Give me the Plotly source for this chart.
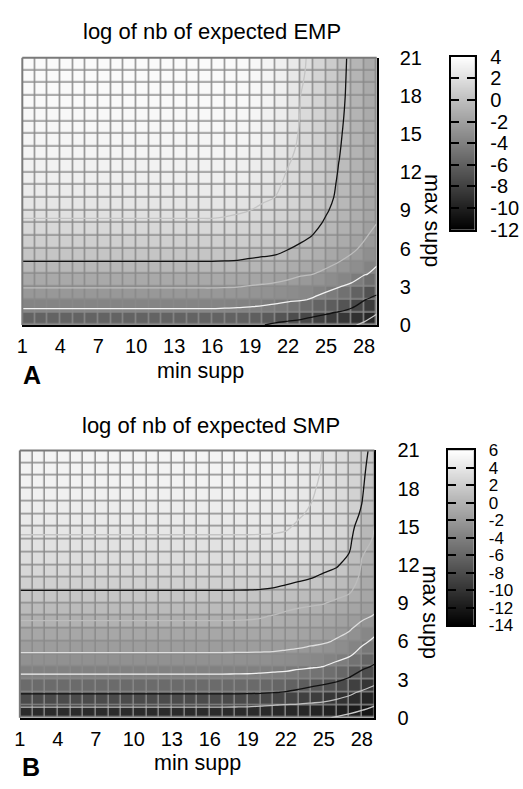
import numpy as np
import plotly.graph_objects as go

# ---------------- data ----------------
min_supp = [1, 2, 3, 4, 5, 6, 7, 8, 9, 10, 11, 12, 13, 14, 15, 16, 17, 18, 19, 20,
            21, 22, 23, 24, 25, 26, 27, 28, 29]
max_supp = [0, 1, 2, 3, 4, 5, 6, 7, 8, 9, 10, 11, 12, 13, 14, 15, 16, 17, 18, 19, 20, 21]

x_ticks = [1, 4, 7, 10, 13, 16, 19, 22, 25, 28]
y_ticks = [0, 3, 6, 9, 12, 15, 18, 21]
cb_ticks_A = [-12, -10, -8, -6, -4, -2, 0, 2, 4]
cb_ticks_B = [-14, -12, -10, -8, -6, -4, -2, 0, 2, 4, 6]

# log of expected EMP, one list per min supp (values for max supp 0..21)
emp_by_min_supp = [
    [-7.2, -4.4, -3.0, -1.9, -0.9, 0.0, 0.7, 1.3, 1.85, 2.25, 2.6, 2.9, 3.1, 3.25, 3.35, 3.45, 3.52, 3.58, 3.62, 3.66, 3.68, 3.7],
    [-7.2, -4.4, -3.0, -1.9, -0.9, 0.0, 0.7, 1.3, 1.85, 2.25, 2.6, 2.9, 3.1, 3.25, 3.35, 3.45, 3.52, 3.58, 3.62, 3.66, 3.68, 3.7],
    [-7.2, -4.4, -3.0, -1.9, -0.9, 0.0, 0.7, 1.3, 1.85, 2.25, 2.6, 2.9, 3.1, 3.25, 3.35, 3.45, 3.52, 3.58, 3.62, 3.66, 3.68, 3.7],
    [-7.2, -4.4, -3.0, -1.9, -0.9, 0.0, 0.7, 1.3, 1.85, 2.25, 2.6, 2.9, 3.1, 3.25, 3.35, 3.45, 3.52, 3.58, 3.62, 3.66, 3.68, 3.7],
    [-7.2, -4.4, -3.0, -1.9, -0.9, 0.0, 0.7, 1.3, 1.85, 2.25, 2.6, 2.9, 3.1, 3.25, 3.35, 3.45, 3.52, 3.58, 3.62, 3.66, 3.68, 3.7],
    [-7.2, -4.4, -3.0, -1.9, -0.9, 0.0, 0.7, 1.3, 1.85, 2.25, 2.6, 2.9, 3.1, 3.25, 3.35, 3.45, 3.52, 3.58, 3.62, 3.66, 3.68, 3.7],
    [-7.2, -4.4, -3.0, -1.9, -0.9, 0.0, 0.7, 1.3, 1.85, 2.25, 2.6, 2.9, 3.1, 3.25, 3.35, 3.45, 3.52, 3.58, 3.62, 3.66, 3.68, 3.7],
    [-7.2, -4.4, -3.0, -1.9, -0.9, 0.0, 0.7, 1.3, 1.85, 2.25, 2.6, 2.9, 3.1, 3.25, 3.35, 3.45, 3.52, 3.58, 3.62, 3.66, 3.68, 3.7],
    [-7.2, -4.4, -3.0, -1.9, -0.9, 0.0, 0.7, 1.3, 1.85, 2.25, 2.6, 2.9, 3.1, 3.25, 3.35, 3.45, 3.52, 3.58, 3.62, 3.66, 3.68, 3.7],
    [-7.2, -4.4, -3.0, -1.9, -0.9, 0.0, 0.7, 1.3, 1.85, 2.25, 2.6, 2.9, 3.1, 3.25, 3.35, 3.45, 3.52, 3.58, 3.62, 3.66, 3.68, 3.7],
    [-7.2, -4.4, -3.0, -1.9, -0.9, 0.0, 0.7, 1.3, 1.85, 2.25, 2.6, 2.9, 3.1, 3.25, 3.35, 3.45, 3.52, 3.58, 3.62, 3.66, 3.68, 3.7],
    [-7.2, -4.4, -3.0, -1.9, -0.9, 0.0, 0.7, 1.3, 1.85, 2.25, 2.6, 2.9, 3.1, 3.25, 3.35, 3.45, 3.52, 3.58, 3.62, 3.66, 3.68, 3.7],
    [-7.2, -4.4, -3.0, -1.9, -0.9, 0.0, 0.7, 1.3, 1.85, 2.25, 2.6, 2.9, 3.1, 3.25, 3.35, 3.45, 3.52, 3.58, 3.62, 3.66, 3.68, 3.7],
    [-7.2, -4.4, -3.0, -1.9, -0.9, 0.0, 0.7, 1.3, 1.85, 2.25, 2.6, 2.9, 3.1, 3.25, 3.35, 3.45, 3.52, 3.58, 3.62, 3.66, 3.68, 3.7],
    [-7.2, -4.4, -3.0, -1.9, -0.9, 0.0, 0.7, 1.3, 1.85, 2.25, 2.6, 2.9, 3.1, 3.25, 3.35, 3.45, 3.52, 3.58, 3.62, 3.66, 3.68, 3.7],
    [-7.2, -4.4, -3.0, -1.9, -0.9, 0.0, 0.7, 1.3, 1.85, 2.25, 2.6, 2.9, 3.1, 3.25, 3.35, 3.45, 3.52, 3.58, 3.62, 3.66, 3.68, 3.7],
    [-7.22, -4.45, -3.05, -1.93, -0.92, -0.02, 0.67, 1.26, 1.8, 2.2, 2.56, 2.86, 3.07, 3.22, 3.33, 3.43, 3.5, 3.57, 3.61, 3.65, 3.67, 3.69],
    [-7.25, -4.5, -3.1, -1.97, -0.95, -0.05, 0.62, 1.2, 1.72, 2.12, 2.5, 2.8, 3.02, 3.18, 3.29, 3.39, 3.47, 3.54, 3.59, 3.63, 3.65, 3.67],
    [-7.3, -4.6, -3.2, -2.1, -1.05, -0.15, 0.5, 1.05, 1.55, 2.0, 2.38, 2.68, 2.9, 3.08, 3.22, 3.33, 3.41, 3.48, 3.53, 3.56, 3.58, 3.6],
    [-7.4, -4.75, -3.3, -2.2, -1.2, -0.2, 0.35, 0.9, 1.4, 1.8, 2.15, 2.45, 2.7, 2.9, 3.05, 3.17, 3.26, 3.33, 3.38, 3.42, 3.44, 3.45],
    [-8.0, -5.0, -3.5, -2.35, -1.3, -0.3, 0.3, 0.8, 1.2, 1.55, 1.98, 2.2, 2.4, 2.58, 2.72, 2.86, 2.97, 3.05, 3.11, 3.15, 3.18, 3.2],
    [-8.3, -5.6, -3.65, -2.6, -1.5, -0.6, 0.05, 0.55, 0.95, 1.28, 1.55, 1.75, 1.92, 2.12, 2.35, 2.55, 2.7, 2.82, 2.9, 2.95, 2.98, 3.0],
    [-8.55, -6.1, -3.8, -2.75, -1.85, -0.95, -0.25, 0.3, 0.7, 1.02, 1.25, 1.43, 1.57, 1.68, 1.77, 1.84, 1.9, 1.95, 1.99, 2.1, 2.22, 2.3],
    [-8.75, -6.8, -4.2, -3.05, -2.0, -1.15, -0.5, -0.05, 0.3, 0.6, 0.82, 1.0, 1.14, 1.25, 1.34, 1.41, 1.47, 1.51, 1.54, 1.57, 1.59, 1.6],
    [-8.95, -7.2, -4.7, -3.5, -2.35, -1.55, -0.95, -0.5, -0.15, 0.1, 0.3, 0.45, 0.58, 0.68, 0.77, 0.85, 0.91, 0.97, 1.01, 1.05, 1.08, 1.1],
    [-9.1, -7.6, -5.1, -3.95, -2.85, -1.95, -1.3, -0.85, -0.55, -0.35, -0.2, -0.14, -0.06, 0.02, 0.08, 0.14, 0.21, 0.28, 0.35, 0.4, 0.45, 0.5],
    [-9.3, -8.1, -6.2, -4.35, -3.2, -2.4, -1.7, -1.2, -0.9, -0.7, -0.6, -0.52, -0.47, -0.43, -0.4, -0.38, -0.36, -0.34, -0.33, -0.32, -0.31, -0.3],
    [-9.8, -8.6, -7.4, -5.5, -3.85, -3.0, -2.3, -1.8, -1.5, -1.3, -1.2, -1.15, -1.1, -1.08, -1.06, -1.05, -1.04, -1.03, -1.02, -1.01, -1.0, -1.0],
    [-10.6, -9.3, -8.0, -6.6, -4.4, -3.75, -3.1, -2.5, -1.98, -1.85, -1.75, -1.7, -1.65, -1.63, -1.61, -1.59, -1.57, -1.55, -1.54, -1.53, -1.52, -1.5],
]

# log of expected SMP, one list per min supp (values for max supp 0..21)
smp_by_min_supp = [
    [-11.5, -9.7, -6.6, -4.6, -3.2, -2.1, -1.25, -0.5, 0.3, 1.1, 2.0, 2.6, 3.1, 3.5, 3.88, 4.2, 4.5, 4.75, 4.93, 5.05, 5.13, 5.18],
    [-11.5, -9.7, -6.6, -4.6, -3.2, -2.1, -1.25, -0.5, 0.3, 1.1, 2.0, 2.6, 3.1, 3.5, 3.88, 4.2, 4.5, 4.75, 4.93, 5.05, 5.13, 5.18],
    [-11.5, -9.7, -6.6, -4.6, -3.2, -2.1, -1.25, -0.5, 0.3, 1.1, 2.0, 2.6, 3.1, 3.5, 3.88, 4.2, 4.5, 4.75, 4.93, 5.05, 5.13, 5.18],
    [-11.5, -9.7, -6.6, -4.6, -3.2, -2.1, -1.25, -0.5, 0.3, 1.1, 2.0, 2.6, 3.1, 3.5, 3.88, 4.2, 4.5, 4.75, 4.93, 5.05, 5.13, 5.18],
    [-11.5, -9.7, -6.6, -4.6, -3.2, -2.1, -1.25, -0.5, 0.3, 1.1, 2.0, 2.6, 3.1, 3.5, 3.88, 4.2, 4.5, 4.75, 4.93, 5.05, 5.13, 5.18],
    [-11.5, -9.7, -6.6, -4.6, -3.2, -2.1, -1.25, -0.5, 0.3, 1.1, 2.0, 2.6, 3.1, 3.5, 3.88, 4.2, 4.5, 4.75, 4.93, 5.05, 5.13, 5.18],
    [-11.5, -9.7, -6.6, -4.6, -3.2, -2.1, -1.25, -0.5, 0.3, 1.1, 2.0, 2.6, 3.1, 3.5, 3.88, 4.2, 4.5, 4.75, 4.93, 5.05, 5.13, 5.18],
    [-11.5, -9.7, -6.6, -4.6, -3.2, -2.1, -1.25, -0.5, 0.3, 1.1, 2.0, 2.6, 3.1, 3.5, 3.88, 4.2, 4.5, 4.75, 4.93, 5.05, 5.13, 5.18],
    [-11.5, -9.7, -6.6, -4.6, -3.2, -2.1, -1.25, -0.5, 0.3, 1.1, 2.0, 2.6, 3.1, 3.5, 3.88, 4.2, 4.5, 4.75, 4.93, 5.05, 5.13, 5.18],
    [-11.5, -9.7, -6.6, -4.6, -3.2, -2.1, -1.25, -0.5, 0.3, 1.1, 2.0, 2.6, 3.1, 3.5, 3.88, 4.2, 4.5, 4.75, 4.93, 5.05, 5.13, 5.18],
    [-11.5, -9.7, -6.6, -4.6, -3.2, -2.1, -1.25, -0.5, 0.3, 1.1, 2.0, 2.6, 3.1, 3.5, 3.88, 4.2, 4.5, 4.75, 4.93, 5.05, 5.13, 5.18],
    [-11.5, -9.7, -6.6, -4.6, -3.2, -2.1, -1.25, -0.5, 0.3, 1.1, 2.0, 2.6, 3.1, 3.5, 3.88, 4.2, 4.5, 4.75, 4.93, 5.05, 5.13, 5.18],
    [-11.5, -9.7, -6.6, -4.6, -3.2, -2.1, -1.25, -0.5, 0.3, 1.1, 2.0, 2.6, 3.1, 3.5, 3.88, 4.2, 4.5, 4.75, 4.93, 5.05, 5.13, 5.18],
    [-11.5, -9.7, -6.6, -4.6, -3.2, -2.1, -1.25, -0.5, 0.3, 1.1, 2.0, 2.6, 3.1, 3.5, 3.88, 4.2, 4.5, 4.75, 4.93, 5.05, 5.13, 5.18],
    [-11.5, -9.7, -6.6, -4.6, -3.2, -2.1, -1.25, -0.5, 0.3, 1.1, 2.0, 2.6, 3.1, 3.5, 3.88, 4.2, 4.5, 4.75, 4.93, 5.05, 5.13, 5.18],
    [-11.5, -9.7, -6.6, -4.6, -3.2, -2.1, -1.25, -0.5, 0.3, 1.1, 2.0, 2.6, 3.1, 3.5, 3.88, 4.2, 4.5, 4.75, 4.93, 5.05, 5.13, 5.18],
    [-11.5, -9.7, -6.6, -4.6, -3.2, -2.1, -1.25, -0.5, 0.3, 1.1, 2.0, 2.6, 3.1, 3.5, 3.88, 4.2, 4.5, 4.75, 4.93, 5.05, 5.13, 5.18],
    [-11.5, -9.72, -6.62, -4.62, -3.21, -2.11, -1.25, -0.5, 0.27, 1.07, 1.99, 2.6, 3.1, 3.5, 3.88, 4.2, 4.5, 4.74, 4.92, 5.04, 5.11, 5.15],
    [-11.5, -9.75, -6.65, -4.65, -3.22, -2.12, -1.24, -0.5, 0.22, 1.03, 1.98, 2.6, 3.1, 3.5, 3.88, 4.2, 4.49, 4.73, 4.9, 5.01, 5.07, 5.1],
    [-11.51, -9.85, -6.75, -4.75, -3.28, -2.15, -1.22, -0.5, 0.12, 0.95, 1.95, 2.6, 3.1, 3.5, 3.88, 4.18, 4.46, 4.68, 4.85, 4.96, 5.0, 5.02],
    [-11.52, -9.95, -6.9, -4.9, -3.35, -2.2, -1.2, -0.5, -0.05, 0.85, 1.85, 2.6, 3.1, 3.5, 3.87, 4.15, 4.4, 4.58, 4.72, 4.81, 4.87, 4.9],
    [-11.55, -10.1, -7.1, -5.1, -3.4, -2.35, -1.25, -0.6, -0.3, 0.55, 1.6, 2.5, 3.1, 3.5, 3.85, 4.08, 4.28, 4.44, 4.56, 4.65, 4.71, 4.75],
    [-11.6, -10.2, -7.4, -5.6, -3.6, -2.5, -1.4, -0.8, -0.45, 0.3, 1.35, 2.3, 3.0, 3.4, 3.7, 3.9, 4.08, 4.22, 4.34, 4.43, 4.5, 4.55],
    [-11.7, -10.4, -7.8, -5.9, -3.8, -2.7, -1.6, -1.0, -0.5, 0.15, 1.1, 2.05, 2.7, 3.2, 3.55, 3.75, 3.9, 4.02, 4.1, 4.18, 4.24, 4.28],
    [-11.85, -10.6, -8.2, -6.2, -4.05, -2.9, -1.8, -1.2, -0.6, 0.05, 0.9, 1.75, 2.4, 2.85, 3.2, 3.45, 3.62, 3.75, 3.84, 3.9, 3.93, 3.95],
    [-12.1, -10.9, -8.9, -6.6, -4.5, -3.3, -2.15, -1.5, -1.0, -0.25, 0.55, 1.45, 2.15, 2.6, 2.9, 3.1, 3.25, 3.36, 3.44, 3.5, 3.53, 3.55],
    [-12.5, -10.8, -9.7, -7.3, -5.4, -3.6, -2.7, -1.8, -1.2, -0.5, 0.2, 0.9, 1.5, 2.05, 2.4, 2.6, 2.75, 2.85, 2.92, 2.98, 3.02, 3.05],
    [-12.8, -11.4, -10.2, -8.7, -6.4, -4.8, -3.5, -2.6, -1.6, -1.0, -0.6, -0.35, -0.1, 0.1, 0.6, 1.2, 1.8, 2.05, 2.2, 2.3, 2.38, 2.45],
    [-13.1, -11.9, -10.8, -9.3, -7.35, -5.6, -4.4, -3.3, -2.1, -1.4, -0.95, -0.7, -0.5, -0.32, -0.15, -0.02, 0.25, 0.55, 0.85, 1.1, 1.35, 1.55],
]

# contour levels and their line colours
levels_A = [2, 0, -2, -4, -7.5, -9.5]
colors_A = ["#c4c4c4", "#111111", "#bdbdbd", "#f2f2f2", "#111111", "#c8c8c8"]
levels_B = [4, 2, 0, -2, -4, -7, -10, -12]
colors_B = ["#c4c4c4", "#111111", "#bdbdbd", "#dedede", "#f2f2f2", "#111111", "#c0c0c0", "#c8c8c8"]

# ---------------- styling ----------------
FONT = "Liberation Sans, Arial, Helvetica, sans-serif"
GRAY = [[0.0, "rgb(0,0,0)"], [1.0, "rgb(255,255,255)"]]
W, H = 523, 789
TICK_SIZE = 20


def px_x(p):
    return p / W


def px_y(p):
    return 1 - p / H


fig = go.Figure()


def add_panel(data_cols, levels, colors, cb_ticks, xa, ya, cxa, cya):
    z_nodes = np.array(data_cols, dtype=float).T          # rows: max supp, cols: min supp
    # pm3d-like cells: colour of a cell = mean of its four corners
    cells = (z_nodes[:-1, :-1] + z_nodes[1:, :-1] + z_nodes[:-1, 1:] + z_nodes[1:, 1:]) / 4.0
    zmin, zmax = cb_ticks[0], cb_ticks[-1]
    fig.add_trace(go.Heatmap(
        x=min_supp, y=max_supp, z=cells, colorscale=GRAY, zmin=zmin, zmax=zmax,
        xgap=1.5, ygap=1.5, showscale=False, hoverinfo="skip",
        xaxis=xa, yaxis=ya))
    for lv, col in zip(levels, colors):
        fig.add_trace(go.Contour(
            x=min_supp, y=max_supp, z=z_nodes, autocontour=False,
            contours=dict(start=lv, end=lv, size=1, coloring="none"),
            line=dict(color=col, width=1.3, smoothing=1.0),
            showscale=False, hoverinfo="skip", xaxis=xa, yaxis=ya))
    # colour key drawn as a smooth heatmap on its own axes
    fig.add_trace(go.Heatmap(
        x=[0, 1], y=cb_ticks, z=[[v, v] for v in cb_ticks], zsmooth="best",
        colorscale=GRAY, zmin=zmin, zmax=zmax, showscale=False, hoverinfo="skip",
        xaxis=cxa, yaxis=cya))


add_panel(emp_by_min_supp, levels_A, colors_A, cb_ticks_A, "x", "y", "x2", "y2")
add_panel(smp_by_min_supp, levels_B, colors_B, cb_ticks_B, "x3", "y3", "x4", "y4")


def tickfont(size=TICK_SIZE):
    return dict(family=FONT, size=size, color="black")


def main_x(dom, anchor):
    return dict(domain=dom, anchor=anchor, range=[1, 29], tickvals=x_ticks,
                ticktext=[str(t) for t in x_ticks], ticks="", ticklabelstandoff=2,
                showline=True, linecolor="black", linewidth=2, mirror=False,
                showgrid=False, zeroline=False, tickfont=tickfont(), fixedrange=True)


def main_y(dom, anchor):
    return dict(domain=dom, anchor=anchor, side="right", range=[0, 21], tickvals=y_ticks,
                ticktext=[str(t) for t in y_ticks], ticks="", ticklabelstandoff=17,
                showline=True, linecolor="black", linewidth=2, mirror=False,
                showgrid=False, zeroline=False, tickfont=tickfont(), fixedrange=True)


def cb_x(dom, anchor):
    return dict(domain=dom, anchor=anchor, range=[0, 1], showticklabels=False, ticks="",
                showline=True, linecolor="black", linewidth=1.5, mirror=True,
                showgrid=False, zeroline=False, fixedrange=True)


def cb_y(dom, anchor, ticks, size):
    return dict(domain=dom, anchor=anchor, side="right", range=[ticks[0], ticks[-1]],
                tickvals=ticks, ticktext=[str(t) for t in ticks], ticks="inside",
                ticklen=8, tickwidth=1.5, tickcolor="black", ticklabelstandoff=10,
                showline=True, linecolor="black", linewidth=1.5, mirror="ticks",
                showgrid=False, zeroline=False, tickfont=tickfont(size), fixedrange=True)


fig.update_layout(
    width=W, height=H, autosize=False,
    margin=dict(l=0, r=0, t=0, b=0),
    paper_bgcolor="white", plot_bgcolor="#8a8a8a",
    showlegend=False,
    font=dict(family=FONT, color="black"),
    xaxis=main_x([px_x(16.5), px_x(375)], "y"),
    yaxis=main_y([px_y(323), px_y(48)], "x"),
    xaxis2=cb_x([px_x(450), px_x(474)], "y2"),
    yaxis2=cb_y([px_y(225), px_y(47)], "x2", cb_ticks_A, 20),
    xaxis3=main_x([px_x(14), px_x(372.7)], "y3"),
    yaxis3=main_y([px_y(727), px_y(452)], "x3"),
    xaxis4=cb_x([px_x(447), px_x(473)], "y4"),
    yaxis4=cb_y([px_y(632), px_y(452)], "x4", cb_ticks_B, 17),
)

# gray top / left frame edges of the maps
shapes = []
for xa, ya in (("x", "y"), ("x3", "y3")):
    shapes.append(dict(type="line", xref=f"{xa} domain", yref=f"{ya} domain",
                       x0=0, x1=0, y0=0, y1=1, line=dict(color="#7a7a7a", width=2)))
    shapes.append(dict(type="line", xref=f"{xa} domain", yref=f"{ya} domain",
                       x0=0, x1=1, y0=1, y1=1, line=dict(color="#7a7a7a", width=2)))
fig.update_layout(shapes=shapes)


def ann(text, x, y, size=21.5, angle=0, bold=False):
    return dict(text=f"<b>{text}</b>" if bold else text, x=px_x(x), y=px_y(y),
                xref="paper", yref="paper", showarrow=False, xanchor="center",
                yanchor="middle", textangle=angle,
                font=dict(family=FONT, size=size, color="black"))


fig.update_layout(annotations=[
    ann("log of nb of expected EMP", 208, 21, size=22),
    ann("min supp", 197, 370),
    ann("max supp", 431, 215, angle=90),
    ann("A", 26, 374, size=25, bold=True),
    ann("log of nb of expected SMP", 207, 426, size=22),
    ann("min supp", 194, 774),
    ann("max supp", 429, 618, angle=90),
    ann("B", 25, 778, size=25, bold=True),
])

fig.write_html(
    "out.html",
    config={"displayModeBar": False},
    post_script="document.body.style.margin='0px';document.body.style.overflow='hidden';",
)
